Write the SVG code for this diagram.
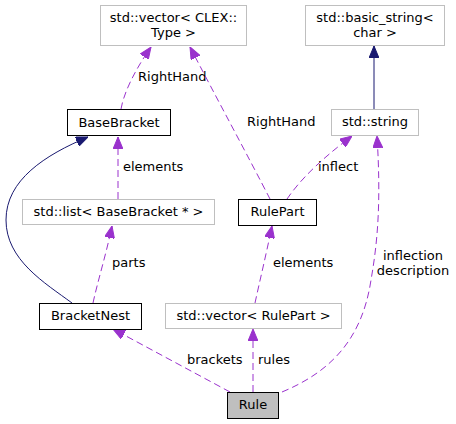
<svg xmlns="http://www.w3.org/2000/svg" width="456" height="424" viewBox="0 0 456 424">
<style>
text{font-family:"DejaVu Sans","Liberation Sans",sans-serif;font-size:13px;fill:#000}
.n text{text-anchor:middle}
.doc{fill:#fff;stroke:#000;stroke-width:1}
.ext{fill:#fff;stroke:#bfbfbf;stroke-width:1}
.cur{fill:#bfbfbf;stroke:#000;stroke-width:1}
.use{fill:none;stroke:#9a32cd;stroke-width:1;stroke-dasharray:7,4;marker-end:url(#pa)}
.inh{fill:none;stroke:#191970;stroke-width:1;marker-end:url(#na)}
</style>
<defs>
<marker id="pa" viewBox="0 0 12 10" refX="12" refY="5" markerWidth="12" markerHeight="10" markerUnits="userSpaceOnUse" orient="auto"><path d="M0,0 L12,5 L0,10 z" fill="#9a32cd" stroke="#9a32cd"/></marker>
<marker id="na" viewBox="0 0 12 10" refX="12" refY="5" markerWidth="12" markerHeight="10" markerUnits="userSpaceOnUse" orient="auto"><path d="M0,0 L12,5 L0,10 z" fill="#191970" stroke="#191970"/></marker>
</defs>
<rect width="456" height="424" fill="#fff"/>
<g id="edges">
<path class="use" d="M121,109 C124,92 135,70 151,47"/>
<text x="138" y="81">RightHand</text>
<path class="use" d="M270,199 C250,160 215,95 190,47"/>
<text x="247" y="126">RightHand</text>
<path class="use" d="M287,199 C300,180 320,160 352,136"/>
<text x="318" y="171">inflect</text>
<path class="inh" d="M374,109 L374,46"/>
<path class="use" d="M118,199 L118,137"/>
<text x="123" y="171">elements</text>
<path class="inh" d="M72,303 C45,283 6,260 6,220 C6,180 45,155 88,137"/>
<path class="use" d="M93,303 C98,280 106,255 112,226"/>
<text x="112" y="267">parts</text>
<path class="use" d="M255,303 C260,280 266,255 272,226"/>
<text x="273" y="267">elements</text>
<path class="use" d="M230,392 L113,329"/>
<text x="187" y="364">brackets</text>
<path class="use" d="M253,392 L253,329"/>
<text x="258" y="364">rules</text>
<path class="use" d="M282,392 C330,372 362,340 371,280 C378,240 381,200 377,136"/>
<text x="413" y="260" text-anchor="middle">inflection</text>
<text x="413" y="275" text-anchor="middle">description</text>
</g>
<g id="vecCLEX" class="n"><rect class="ext" x="100.5" y="5.5" width="146" height="40"/><text x="173.5" y="22">std::vector&lt; CLEX::</text><text x="173.5" y="37">Type &gt;</text></g>
<g id="basicString" class="n"><rect class="ext" x="305.5" y="5.5" width="139" height="40"/><text x="375" y="22">std::basic_string&lt;</text><text x="375" y="37">char &gt;</text></g>
<g id="BaseBracket" class="n"><rect class="doc" x="67.5" y="109.5" width="103" height="26"/><text x="119" y="127">BaseBracket</text></g>
<g id="stdString" class="n"><rect class="ext" x="331.5" y="109.5" width="87" height="26"/><text x="375" y="126">std::string</text></g>
<g id="listBaseBracket" class="n"><rect class="ext" x="22.5" y="199.5" width="192" height="25"/><text x="118.5" y="216">std::list&lt; BaseBracket * &gt;</text></g>
<g id="RulePart" class="n"><rect class="doc" x="238.5" y="199.5" width="78" height="26"/><text x="277.5" y="216">RulePart</text></g>
<g id="BracketNest" class="n"><rect class="doc" x="39.5" y="303.5" width="102" height="26"/><text x="90.5" y="320">BracketNest</text></g>
<g id="vecRulePart" class="n"><rect class="ext" x="165.5" y="303.5" width="176" height="25"/><text x="253.5" y="320">std::vector&lt; RulePart &gt;</text></g>
<g id="Rule" class="n"><rect class="cur" x="227.5" y="392.5" width="51" height="26"/><text x="253" y="409">Rule</text></g>
</svg>
